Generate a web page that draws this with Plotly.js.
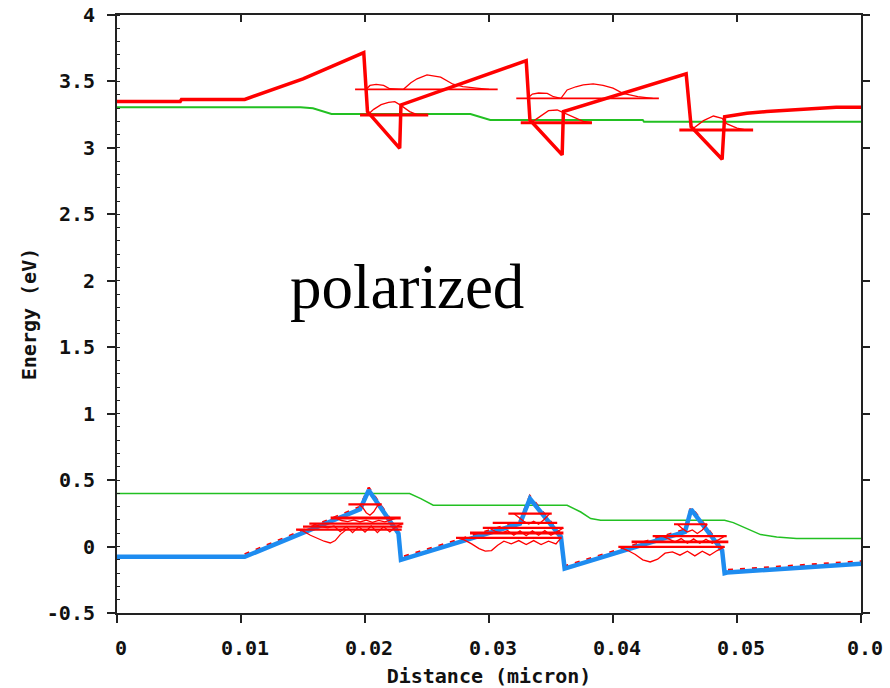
<!DOCTYPE html>
<html>
<head>
<meta charset="utf-8">
<script src="https://cdn.plot.ly/plotly-3.0.1.min.js"></script>
<style>
  html, body { margin: 0; padding: 0; background: #ffffff; }
  #chart { width: 890px; height: 688px; }
</style>
</head>
<body>
<div id="chart"></div>
<script>
// ---- band edges (distance in micron, energy in eV) ----
const cbX = [0, 0.0051, 0.0052, 0.0103, 0.0150, 0.0199, 0.0202, 0.0228, 0.0229, 0.0330, 0.0333, 0.0359, 0.0360, 0.0459, 0.0463, 0.0488, 0.0490, 0.0508, 0.0524, 0.0548, 0.0580, 0.0600];
const cbE = [3.35, 3.35, 3.365, 3.365, 3.52, 3.717, 3.273, 2.997, 3.323, 3.657, 3.21, 2.947, 3.273, 3.557, 3.16, 2.914, 3.235, 3.26, 3.273, 3.286, 3.306, 3.306];

const vbX = [0, 0.0103, 0.0196, 0.0203, 0.0227, 0.0229, 0.0325, 0.0333, 0.0358, 0.0361, 0.0458, 0.0463, 0.0488, 0.0490, 0.0492, 0.0600];
const vbE = [-0.077, -0.077, 0.28, 0.424, 0.098, -0.10, 0.173, 0.361, 0.072, -0.166, 0.11, 0.279, -0.028, -0.20, -0.195, -0.13];

// light-hole edge, running just above the heavy-hole edge
const lhX = [0.0103, 0.0196, 0.0203, 0.0227, 0.0229, 0.0325, 0.0333, 0.0358, 0.0361, 0.0458, 0.0463, 0.0488, 0.0490, 0.0492, 0.0600];
const lhE = [-0.059, 0.298, 0.442, 0.116, -0.082, 0.191, 0.379, 0.09, -0.148, 0.128, 0.297, -0.01, -0.182, -0.177, -0.112];

// unpolarized reference edges
const refCbX = [0, 0.0148, 0.0158, 0.0173, 0.0285, 0.0301, 0.0424, 0.0425, 0.0600];
const refCbE = [3.305, 3.305, 3.298, 3.255, 3.255, 3.21, 3.21, 3.197, 3.197];
const refVbX = [0, 0.0236, 0.0245, 0.0255, 0.0363, 0.0374, 0.0382, 0.0390, 0.0490, 0.0497, 0.0519, 0.0532, 0.0548, 0.0600];
const refVbE = [0.399, 0.399, 0.361, 0.311, 0.311, 0.26, 0.211, 0.198, 0.198, 0.18, 0.09, 0.072, 0.06, 0.06];

// ---- confined levels: start, end, energy ----
const cbGroundStart = [0.0196, 0.03256, 0.04535];
const cbGroundEnd   = [0.0251, 0.0383, 0.0513];
const cbGroundE     = [3.248, 3.19, 3.135];
const cbExcitedStart = [0.0192, 0.0322];
const cbExcitedEnd   = [0.0307, 0.0437];
const cbExcitedE     = [3.441, 3.373];

const vbMainStart = [0.01723, 0.02847, 0.0415];
const vbMainEnd   = [0.02288, 0.0360, 0.0493];
const vbMainE     = [0.215, 0.102, 0.035];
const vbLevelStart = [0.01866, 0.01551, 0.0150, 0.01444, 0.03156, 0.0303, 0.0295, 0.02734, 0.04492, 0.0432, 0.04043];
const vbLevelEnd   = [0.02135, 0.02309, 0.0230, 0.02296, 0.03506, 0.0355, 0.0360, 0.03586, 0.0476, 0.04917, 0.0490];
const vbLevelE     = [0.318, 0.173, 0.150, 0.128, 0.248, 0.178, 0.14, 0.065, 0.168, 0.078, -0.003];

// ---- probability densities drawn on their levels ----
const wfC1X = [0.0202, 0.0207, 0.0213, 0.0219, 0.0224, 0.0229, 0.0236, 0.0242];
const wfC1E = [3.248, 3.29, 3.325, 3.342, 3.348, 3.32, 3.273, 3.25];
const wfC2X = [0.0201, 0.0204, 0.0209, 0.0215, 0.0220, 0.0231, 0.0237, 0.0242, 0.0250, 0.0261, 0.0271, 0.0279, 0.0290, 0.0300];
const wfC2E = [3.441, 3.47, 3.478, 3.47, 3.445, 3.441, 3.49, 3.52, 3.549, 3.532, 3.479, 3.461, 3.45, 3.441];
const wfC3X = [0.0334, 0.0341, 0.0348, 0.0355, 0.0360, 0.0368, 0.0376, 0.0383];
const wfC3E = [3.19, 3.235, 3.28, 3.285, 3.265, 3.23, 3.20, 3.19];
const wfC4X = [0.0331, 0.0335, 0.0340, 0.0347, 0.0352, 0.0358, 0.0363, 0.0370, 0.0376, 0.0384, 0.0392, 0.0400, 0.0408, 0.0420, 0.0432];
const wfC4E = [3.373, 3.405, 3.413, 3.41, 3.385, 3.373, 3.436, 3.46, 3.474, 3.481, 3.47, 3.449, 3.411, 3.386, 3.373];
const wfC5X = [0.0463, 0.0465, 0.0473, 0.0481, 0.0488, 0.0492, 0.0500, 0.0507];
const wfC5E = [3.135, 3.148, 3.205, 3.24, 3.223, 3.18, 3.148, 3.135];

const wfV1X = [0.0195, 0.0198, 0.0201, 0.0204, 0.0207, 0.0210, 0.0213];
const wfV1E = [0.318, 0.296, 0.255, 0.236, 0.262, 0.305, 0.318];
const wfV2X = [0.0176, 0.0181, 0.0186, 0.0191, 0.0196, 0.0201, 0.0206, 0.0211, 0.0216, 0.0221, 0.0226];
const wfV2E = [0.215, 0.196, 0.188, 0.2, 0.185, 0.198, 0.182, 0.197, 0.186, 0.2, 0.215];
const wfV3X = [0.0158, 0.0164, 0.0170, 0.0175, 0.0180, 0.0185, 0.0190, 0.0195, 0.0200, 0.0205, 0.0210, 0.0215, 0.0220, 0.0225, 0.0230];
const wfV3E = [0.173, 0.150, 0.140, 0.155, 0.112, 0.150, 0.105, 0.150, 0.108, 0.155, 0.105, 0.150, 0.110, 0.150, 0.173];
const wfV4X = [0.0145, 0.0150, 0.0156, 0.0162, 0.0167, 0.0172, 0.0176, 0.0180, 0.0185];
const wfV4E = [0.128, 0.118, 0.085, 0.06, 0.04, 0.027, 0.045, 0.09, 0.128];
const wfV5X = [0.0320, 0.0324, 0.0328, 0.0332, 0.0336, 0.0340, 0.0344, 0.0349];
const wfV5E = [0.248, 0.22, 0.19, 0.17, 0.19, 0.168, 0.2, 0.248];
const wfV6X = [0.0300, 0.0305, 0.0310, 0.0315, 0.0320, 0.0325, 0.0330, 0.0335, 0.0340, 0.0345, 0.0350, 0.0355, 0.0360];
const wfV6E = [0.14, 0.115, 0.10, 0.12, 0.085, 0.118, 0.082, 0.118, 0.085, 0.12, 0.085, 0.115, 0.14];
const wfV7X = [0.0274, 0.0280, 0.0286, 0.0292, 0.0297, 0.0302, 0.0307, 0.0312, 0.0318, 0.0324, 0.0330, 0.0336, 0.0342, 0.0348, 0.0354, 0.0358];
const wfV7E = [0.065, 0.05, 0.02, -0.015, -0.035, -0.03, 0.01, 0.04, 0.02, 0.045, 0.015, 0.045, 0.015, 0.04, 0.02, 0.065];
const wfV8X = [0.0452, 0.0456, 0.0460, 0.0464, 0.0468, 0.0472, 0.0476];
const wfV8E = [0.168, 0.135, 0.11, 0.125, 0.098, 0.125, 0.168];
const wfV9X = [0.0440, 0.0445, 0.0450, 0.0455, 0.0460, 0.0465, 0.0470, 0.0475, 0.0480, 0.0485, 0.0490];
const wfV9E = [0.078, 0.055, 0.035, 0.06, 0.025, 0.058, 0.025, 0.055, 0.025, 0.05, 0.078];
const wfV10X = [0.0405, 0.0412, 0.0418, 0.0424, 0.0430, 0.0436, 0.0442, 0.0448, 0.0454, 0.0460, 0.0466, 0.0472, 0.0478, 0.0484, 0.0490];
const wfV10E = [-0.003, -0.03, -0.06, -0.10, -0.116, -0.095, -0.05, -0.04, -0.065, -0.035, -0.07, -0.035, -0.065, -0.03, -0.003];

// ---- ticks and labels ----
const xTickVals = [0, 0.01, 0.02, 0.03, 0.04, 0.05, 0.06];
const xTickText = ['0', '0.01', '0.02', '0.03', '0.04', '0.05', '0.0'];
const yTickVals = [-0.5, 0, 0.5, 1, 1.5, 2, 2.5, 3, 3.5, 4];
const yTickText = ['-0.5', '0', '0.5', '1', '1.5', '2', '2.5', '3', '3.5', '4'];
const xTitle = 'Distance (micron)';
const yTitle = 'Energy (eV)';
const noteText = 'polarized';
const noteX = 0.0234;
const noteE = 1.95;

// join horizontal level segments into one broken polyline
function levelSegments(starts, ends, energies) {
  const x = [], y = [];
  for (let i = 0; i < starts.length; i++) {
    x.push(starts[i], ends[i], null);
    y.push(energies[i], energies[i], null);
  }
  return { x, y };
}
// join several curves into one broken polyline
function joinCurves(list) {
  const x = [], y = [];
  list.forEach(([cx, cy]) => { x.push(...cx, null); y.push(...cy, null); });
  return { x, y };
}

const RED = '#ff0000';
const BLUE = '#1e8cf0';
const GREEN = '#22c022';
const AXIS = '#222222';
const tickFont = { family: 'DejaVu Sans Mono', size: 20, color: '#111111', weight: 'bold' };

const cbGround = levelSegments(cbGroundStart, cbGroundEnd, cbGroundE);
const cbExcited = levelSegments(cbExcitedStart, cbExcitedEnd, cbExcitedE);
const vbMain = levelSegments(vbMainStart, vbMainEnd, vbMainE);
const vbLevels = levelSegments(vbLevelStart, vbLevelEnd, vbLevelE);
const waves = joinCurves([
  [wfC1X, wfC1E], [wfC2X, wfC2E], [wfC3X, wfC3E], [wfC4X, wfC4E], [wfC5X, wfC5E],
  [wfV1X, wfV1E], [wfV2X, wfV2E], [wfV3X, wfV3E], [wfV4X, wfV4E], [wfV5X, wfV5E],
  [wfV6X, wfV6E], [wfV7X, wfV7E], [wfV8X, wfV8E], [wfV9X, wfV9E], [wfV10X, wfV10E]
]);

const line = (x, y, color, width, extra) => Object.assign({
  x, y, type: 'scatter', mode: 'lines', line: { color, width },
  hoverinfo: 'skip', showlegend: false, connectgaps: false
}, extra || {});

const traces = [
  line(refCbX, refCbE, GREEN, 2),
  line(refVbX, refVbE, GREEN, 1.5),
  line(lhX, lhE, RED, 2.5, { line: { color: RED, width: 2.5, dash: '5px,7px' } }),
  line(vbX, vbE, BLUE, 4.5),
  line(cbX, cbE, RED, 3.5),
  line(cbGround.x, cbGround.y, RED, 3, { xaxis: 'x2', yaxis: 'y2' }),
  line(cbExcited.x, cbExcited.y, RED, 1.8, { xaxis: 'x2', yaxis: 'y2' }),
  line(vbMain.x, vbMain.y, RED, 2.8, { xaxis: 'x2', yaxis: 'y2' }),
  line(vbLevels.x, vbLevels.y, RED, 2.2, { xaxis: 'x2', yaxis: 'y2' }),
  line(waves.x, waves.y, RED, 1.3, { xaxis: 'x2', yaxis: 'y2' })
];

const xRange = [0, 0.06];
const yRange = [-0.5, 4];

const layout = {
  width: 890, height: 688,
  margin: { l: 117, r: 29, t: 15, b: 75 },
  paper_bgcolor: '#ffffff', plot_bgcolor: '#ffffff',
  showlegend: false,
  xaxis: {
    range: xRange, tickmode: 'array', tickvals: xTickVals, ticktext: xTickText,
    ticks: 'outside', ticklen: 8, tickwidth: 2, tickcolor: AXIS,
    showline: true, linecolor: AXIS, linewidth: 2,
    showgrid: false, zeroline: false, tickfont: tickFont,
    ticklabelshift: 4, ticklabelstandoff: 8,
    title: { text: xTitle, font: tickFont, standoff: 12 }
  },
  xaxis2: {
    range: xRange, overlaying: 'x', side: 'top', tickmode: 'array', tickvals: xTickVals,
    ticks: 'inside', ticklen: 7, tickwidth: 2, tickcolor: AXIS,
    showticklabels: false, showline: true, linecolor: AXIS, linewidth: 2,
    showgrid: false, zeroline: false
  },
  yaxis: {
    range: yRange, tickmode: 'array', tickvals: yTickVals, ticktext: yTickText,
    ticks: 'outside', ticklen: 8, tickwidth: 2, tickcolor: AXIS,
    minor: { tickmode: 'linear', tick0: -0.5, dtick: 0.1, ticks: 'inside', ticklen: 3, tickwidth: 1, tickcolor: AXIS },
    showline: true, linecolor: AXIS, linewidth: 2,
    showgrid: false, zeroline: false, tickfont: tickFont,
    ticklabelstandoff: 8,
    title: { text: yTitle, font: tickFont, standoff: 5 }
  },
  yaxis2: {
    range: yRange, overlaying: 'y', side: 'right', tickmode: 'array', tickvals: yTickVals,
    ticks: 'outside', ticklen: 7, tickwidth: 2, tickcolor: AXIS,
    showticklabels: false, showline: true, linecolor: AXIS, linewidth: 2,
    showgrid: false, zeroline: false
  },
  annotations: [{
    x: noteX, y: noteE, xref: 'x', yref: 'y', text: noteText, showarrow: false,
    xanchor: 'center', yanchor: 'middle',
    font: { family: 'Liberation Serif', size: 63, color: '#000000' }
  }]
};

Plotly.newPlot('chart', traces, layout, { staticPlot: true, displayModeBar: false });
</script>
</body>
</html>
